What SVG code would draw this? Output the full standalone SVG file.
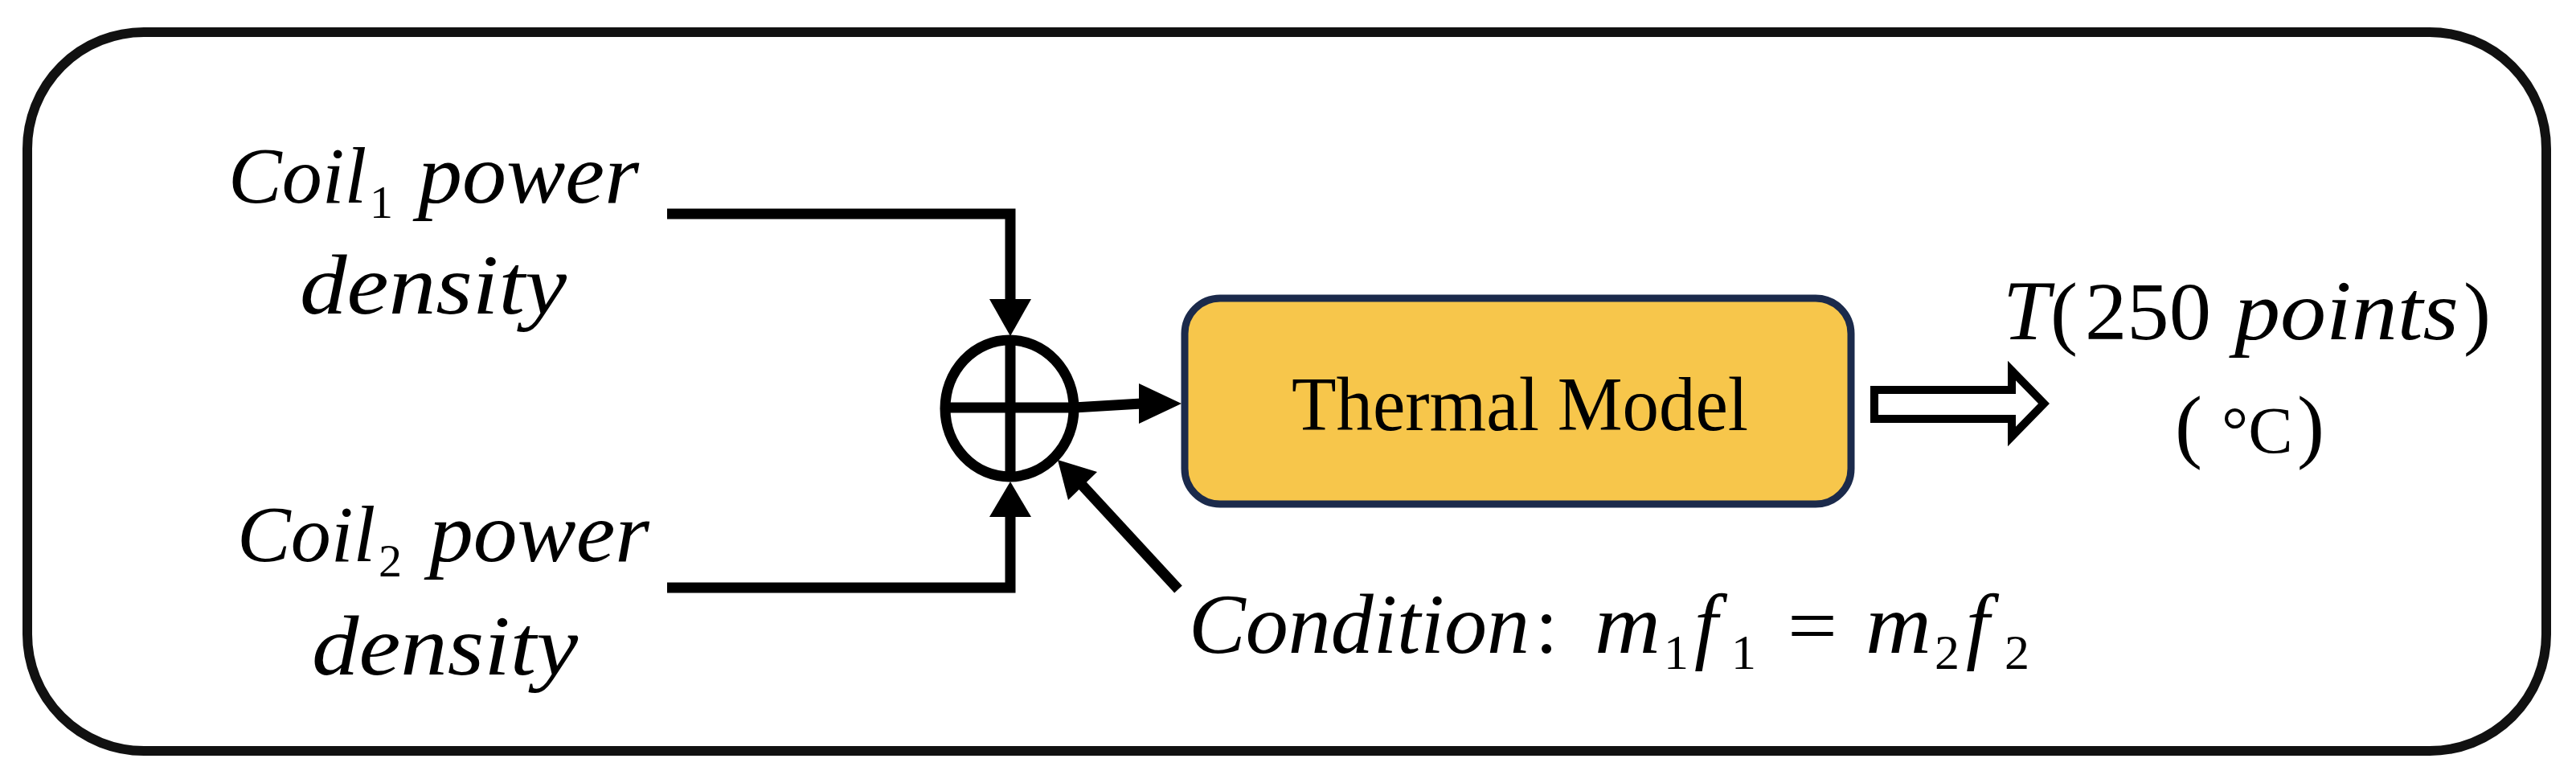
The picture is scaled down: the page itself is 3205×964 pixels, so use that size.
<svg xmlns="http://www.w3.org/2000/svg" width="3205" height="964" viewBox="0 0 3205 964">
<style>
.mi{font-family:"Liberation Serif",serif;font-style:italic;font-size:105px;fill:#000}
.mr{font-family:"Liberation Serif",serif;font-size:102px;fill:#000}
.sub{font-family:"Liberation Serif",serif;font-size:58px;fill:#000}
.ln{fill:none;stroke:#000;stroke-width:13}
.ah{fill:#000;stroke:none}
</style>
<rect width="3205" height="964" fill="#fff"/>
<g id="frame"><rect x="34" y="40" width="3134" height="894" rx="145" ry="145" fill="none" stroke="#111" stroke-width="12"/></g>
<g id="coil1">
<text class="mi" x="284" y="252" style="font-size:100px">Coil</text>
<text class="sub" x="460" y="271">1</text>
<text class="mi" x="520" y="252" textLength="275" lengthAdjust="spacingAndGlyphs">power</text>
<text class="mi" x="373" y="390" textLength="332" lengthAdjust="spacingAndGlyphs">density</text>
</g>
<g id="coil2">
<text class="mi" x="295" y="698" style="font-size:100px">Coil</text>
<text class="sub" x="471" y="717">2</text>
<text class="mi" x="534" y="698" textLength="274" lengthAdjust="spacingAndGlyphs">power</text>
<text class="mi" x="388" y="839" textLength="331" lengthAdjust="spacingAndGlyphs">density</text>
</g>
<g id="sum">
<ellipse cx="1256" cy="508" rx="80" ry="85" fill="none" stroke="#000" stroke-width="13"/>
<line x1="1257" y1="423" x2="1257" y2="593" stroke="#000" stroke-width="13"/>
<line x1="1176" y1="507" x2="1340" y2="507" stroke="#000" stroke-width="13"/>
</g>
<g id="thermal">
<rect x="1474" y="371" width="829" height="256" rx="44" ry="44" fill="#F7C64B" stroke="#1B2A4B" stroke-width="9"/>
<text x="1607" y="535" textLength="568" lengthAdjust="spacingAndGlyphs" style="font-family:'Liberation Serif',serif;font-size:95px;fill:#000">Thermal Model</text>
</g>
<g id="output">
<text class="mi" x="2492" y="422">T</text>
<text class="mr" x="2551" y="422">(</text>
<text class="mr" x="2594" y="422" textLength="157" lengthAdjust="spacingAndGlyphs">250</text>
<text class="mi" x="2780" y="422" textLength="279" lengthAdjust="spacingAndGlyphs">points</text>
<text class="mr" x="3065" y="422">)</text>
<text class="mr" x="2706" y="563">(</text>
<text class="mr" x="2764" y="563" style="font-size:83px">°C</text>
<text class="mr" x="2858" y="563">)</text>
</g>
<g id="condition">
<text class="mi" x="1479" y="812" textLength="424" lengthAdjust="spacingAndGlyphs">Condition</text>
<text class="mr" x="1910" y="812">:</text>
<text class="mi" x="1984" y="812" textLength="82" lengthAdjust="spacingAndGlyphs">m</text>
<text class="sub" x="2070" y="832" style="font-size:62px">1</text>
<text class="mi" x="2108" y="812">f</text>
<text class="sub" x="2154" y="832" style="font-size:62px">1</text>
<text class="mr" x="2224" y="812" textLength="62" lengthAdjust="spacingAndGlyphs">=</text>
<text class="mi" x="2321" y="812" textLength="82" lengthAdjust="spacingAndGlyphs">m</text>
<text class="sub" x="2407" y="832" style="font-size:62px">2</text>
<text class="mi" x="2446" y="812">f</text>
<text class="sub" x="2494" y="832" style="font-size:62px">2</text>
</g>
<g id="connectors">
<path class="ln" d="M830,266 H1257 V374"/>
<polygon class="ah" points="1231,372 1283,372 1257,418"/>
<path class="ln" d="M830,731 H1257 V641"/>
<polygon class="ah" points="1231,643 1283,643 1257,599"/>
<line class="ln" x1="1336" y1="507" x2="1420" y2="502"/>
<polygon class="ah" points="1417,477 1470,502 1417,527"/>
<line class="ln" x1="1466" y1="733" x2="1345" y2="602"/>
<polygon class="ah" points="1316,572 1365,587 1329,622"/>
<polygon points="2332,485 2503,485 2503,461 2543,502 2503,543 2503,521 2332,521" fill="#fff" stroke="#000" stroke-width="10"/>
</g>
</svg>
